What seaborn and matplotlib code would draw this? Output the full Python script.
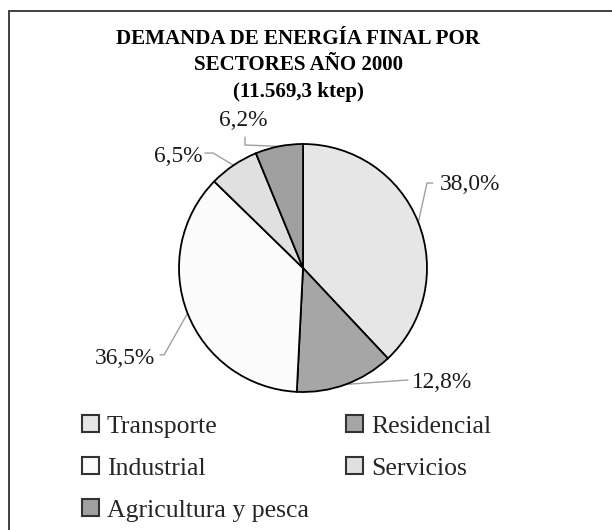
import matplotlib
matplotlib.use("Agg")
import matplotlib.pyplot as plt
import matplotlib.patches as mpatches
import numpy as np
import seaborn as sns

# data
sectors = ["Transporte", "Residencial", "Industrial", "Servicios", "Agricultura y pesca"]
shares = [38.0, 12.8, 36.5, 6.5, 6.2]
colors = ["#e6e6e6", "#a6a6a6", "#fbfbfb", "#e0e0e0", "#a0a0a0"]
title = "DEMANDA DE ENERGÍA FINAL POR\nSECTORES AÑO 2000\n(11.569,3 ktep)"

# label placement (pie radius units): text anchor, alignment, leader bend points
label_pos = [(1.10, 0.67), (0.88, -0.92), (-1.19, -0.73), (-0.81, 0.90), (-0.48, 1.19)]
label_ha = ["left", "left", "right", "right", "center"]
leader_bends = [
    [(1.0, 0.685), (1.048, 0.685)],
    [(0.847, -0.903)],
    [(-1.12, -0.70), (-1.153, -0.70)],
    [(-0.726, 0.927), (-0.79, 0.927)],
    [(-0.468, 0.992), (-0.468, 1.056)],
]

sns.set_theme(style="white")
plt.rcParams["font.family"] = ["Liberation Serif", "DejaVu Serif"]

fig = plt.figure(figsize=(6.12, 5.30), dpi=100)
fig.patch.set_facecolor("white")

# frame around the whole chart (runs off right and bottom in the reference)
fig.patches.append(mpatches.Rectangle((9 / 612, -0.05), 1.2, 1 - 11 / 530 + 0.05,
                                      transform=fig.transFigure, fill=False,
                                      edgecolor="#333333", linewidth=1.3))

fig.text(298 / 612, 1 - 65.5 / 530, title, ha="center", va="center",
         fontsize=15.1, fontweight="bold", linespacing=1.45, color="black")

ax = fig.add_axes([(303 - 124) / 612, (530 - 392) / 530, 248 / 612, 248 / 530])
wedges, _ = ax.pie(shares, colors=colors, startangle=90, counterclock=False,
                   wedgeprops=dict(edgecolor="black", linewidth=1.3))
ax.set_xlim(-1, 1)
ax.set_ylim(-1, 1)
ax.set_aspect("equal")
ax.axis("off")

for w, val, pos, ha, bends in zip(wedges, shares, label_pos, label_ha, leader_bends):
    mid = np.deg2rad((w.theta1 + w.theta2) / 2)
    edge = (np.cos(mid), np.sin(mid))
    pts = [edge] + bends
    ax.plot([p[0] for p in pts], [p[1] for p in pts], color="#a0a0a0",
            linewidth=1.0, clip_on=False, zorder=0.5)
    txt = f"{val:.1f}".replace(".", ",") + "%"
    ax.text(pos[0], pos[1], txt, ha=ha, va="center", fontsize=16.8,
            color="#1a1a1a", clip_on=False)

# legend row-wise like the reference: reorder for column-major filling
order = [0, 2, 4, 1, 3]
handles = [mpatches.Patch(facecolor=colors[i], edgecolor="#333333", linewidth=1.5)
           for i in order]
labels = [sectors[i] for i in order]
fig.legend(handles, labels, loc="upper left", bbox_to_anchor=(82 / 612, 1 - 415 / 530),
           ncol=2, frameon=False, fontsize=18.5, handlelength=0.66, handleheight=0.66,
           handletextpad=0.31, columnspacing=1.44, labelspacing=0.75,
           borderpad=0, borderaxespad=0)

fig.savefig("out.png", dpi=100)
